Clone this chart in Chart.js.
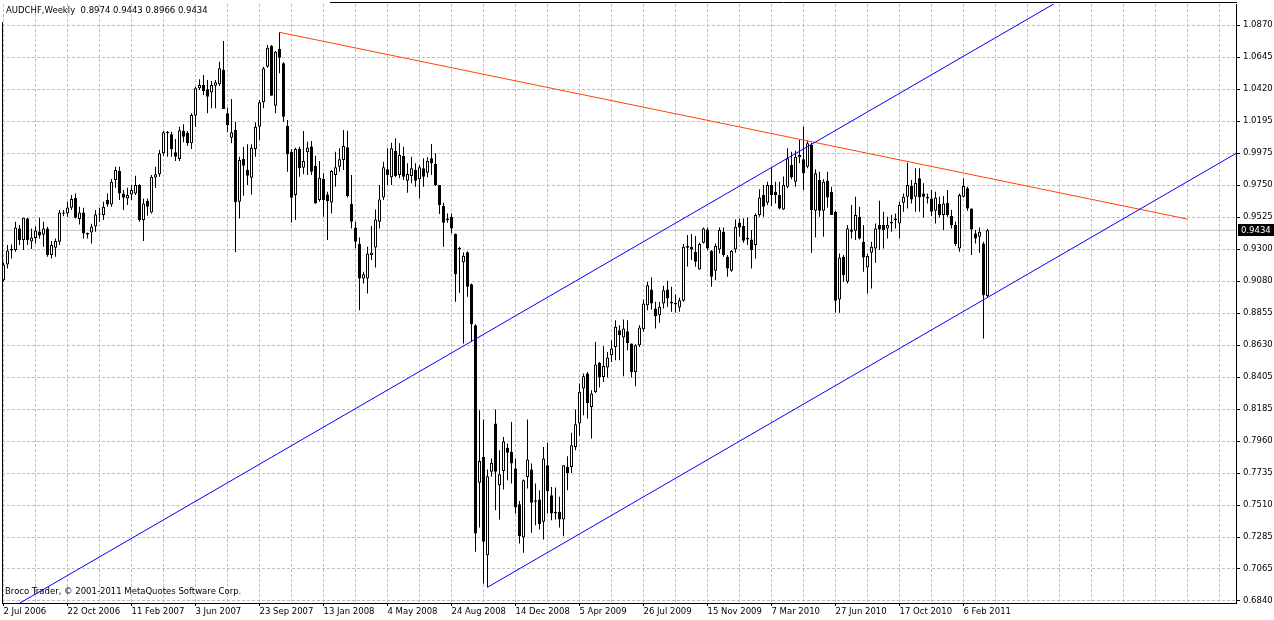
<!DOCTYPE html>
<html>
<head>
<meta charset="utf-8">
<script src="https://cdn.jsdelivr.net/npm/chart.js@4.4.0/dist/chart.umd.min.js"></script>
<style>
html,body{margin:0;padding:0;background:#ffffff;overflow:hidden}
#wrap{position:relative;width:1274px;height:620px}
</style>
</head>
<body>
<div id="wrap"><canvas id="c" width="1274" height="620"></canvas></div>
<script>
// ---------- chart text ----------
const symbol = "AUDCHF";
const timeframe = "Weekly";
const copyrightText = "Broco Trader, \u00A9 2001-2011 MetaQuotes Software Corp.";

// ---------- x axis: weekly bars, one label every 16 weeks from 2 Jul 2006 ----------
const dateLabels = ["2 Jul 2006","22 Oct 2006","11 Feb 2007","3 Jun 2007","23 Sep 2007","13 Jan 2008",
  "4 May 2008","24 Aug 2008","14 Dec 2008","5 Apr 2009","26 Jul 2009","15 Nov 2009","7 Mar 2010",
  "27 Jun 2010","17 Oct 2010","6 Feb 2011"];
const labelEvery = 16;
const gridEvery = 8;

// ---------- y axis tick labels (bottom to top) ----------
const yTickLabels = ["0.6840","0.7065","0.7285","0.7510","0.7735","0.7960","0.8185","0.8405","0.8630",
  "0.8855","0.9080","0.9300","0.9525","0.9750","0.9975","1.0195","1.0420","1.0645","1.0870"];

// ---------- weekly OHLC ----------
const opens = [
0.9085,0.9195,0.9293,0.9295,0.9447,0.9365,0.9517,0.9355,0.9379,0.9425,
0.9402,0.9447,0.9260,0.9312,0.9354,0.9559,0.9552,0.9592,0.9659,0.9512,
0.9559,0.9414,0.9419,0.9460,0.9545,0.9540,0.9645,0.9615,0.9785,0.9848,
0.9692,0.9657,0.9685,0.9692,0.9751,0.9505,0.9638,0.9559,0.9803,0.9825,
0.9972,1.0124,1.0105,0.9979,0.9932,1.0128,1.0116,1.0042,1.0235,1.0427,
1.0450,1.0420,1.0397,1.0445,1.0455,1.0555,1.0252,1.0081,1.0135,0.9633,
0.9932,0.9855,0.9802,1.0002,1.0158,1.0329,1.0578,1.0725,1.0305,1.0702,
1.0602,1.0165,0.9983,0.9680,1.0002,0.9872,0.9979,1.0020,0.9883,0.9645,
0.9792,0.9685,0.9629,0.9820,0.9878,0.9925,1.0014,0.9617,0.9454,0.9337,
0.9097,0.9097,0.9260,0.9314,0.9494,0.9664,0.9860,0.9804,0.9990,0.9820,
0.9953,0.9780,0.9813,0.9855,0.9790,0.9867,0.9836,0.9937,0.9897,0.9750,
0.9603,0.9517,0.9528,0.9407,0.9309,0.9210,0.9280,0.9057,0.8770,0.7667,
0.7848,0.7160,0.7744,0.8082,0.7650,0.7750,0.7912,0.7883,0.7767,0.7517,
0.7284,0.7708,0.7760,0.7545,0.7550,0.7394,0.7790,0.7580,0.7464,0.7464,
0.7410,0.7778,0.7778,0.7918,0.8082,0.8327,0.8432,0.8198,0.8303,0.8507,
0.8408,0.8474,0.8560,0.8618,0.8735,0.8684,0.8728,0.8642,0.8443,0.8630,
0.8742,0.8910,0.9020,0.8887,0.8840,0.8922,0.9020,0.8934,0.8927,0.8894,
0.8940,0.9323,0.9318,0.9281,0.9160,0.9346,0.9440,0.9288,0.9150,0.9300,
0.9423,0.9248,0.9150,0.9300,0.9486,0.9463,0.9381,0.9370,0.9330,0.9540,
0.9680,0.9626,0.9750,0.9703,0.9680,0.9580,0.9738,0.9890,0.9773,0.9944,
0.9930,0.9878,1.0030,0.9570,0.9785,0.9570,0.9780,0.9703,0.9563,0.8950,
0.9248,0.9073,0.9440,0.9430,0.9528,0.9354,0.9174,0.9276,0.9307,0.9470,
0.9470,0.9447,0.9482,0.9517,0.9482,0.9626,0.9668,0.9743,0.9668,0.9797,
0.9692,0.9657,0.9657,0.9570,0.9617,0.9540,0.9626,0.9533,0.9470,0.9307,
0.9668,0.9727,0.9587,0.9412,0.9389,0.9342,0.8974];
const highs = [
0.9209,0.9330,0.9335,0.9493,0.9470,0.9522,0.9522,0.9447,0.9460,0.9521,
0.9493,0.9458,0.9358,0.9377,0.9575,0.9575,0.9633,0.9680,0.9692,0.9598,
0.9592,0.9419,0.9479,0.9575,0.9592,0.9633,0.9692,0.9792,0.9878,0.9878,
0.9715,0.9732,0.9750,0.9815,0.9755,0.9657,0.9657,0.9820,0.9878,0.9995,
1.0128,1.0128,1.0123,1.0072,1.0158,1.0175,1.0128,1.0252,1.0438,1.0490,
1.0520,1.0485,1.0478,1.0485,1.0613,1.0758,1.0291,1.0352,1.0193,0.9948,
1.0018,1.0035,1.0035,1.0189,1.0345,1.0578,1.0730,1.0730,1.0688,1.0819,
1.0609,1.0205,1.0002,1.0011,1.0018,1.0128,1.0053,1.0058,0.9955,0.9918,
0.9832,0.9703,0.9855,0.9983,1.0007,1.0135,1.0130,0.9820,0.9493,0.9384,
0.9143,0.9318,0.9463,0.9580,0.9750,0.9913,1.0007,1.0046,1.0077,1.0042,
1.0018,0.9902,0.9948,0.9902,0.9890,0.9937,0.9944,1.0037,0.9972,0.9750,
0.9626,0.9552,0.9552,0.9412,0.9318,0.9280,0.9287,0.9062,0.8777,0.8175,
0.8110,0.7760,0.7837,0.8180,0.7895,0.7988,0.7942,0.8093,0.7837,0.7540,
0.7690,0.8110,0.7802,0.7662,0.7615,0.7918,0.7947,0.7638,0.7634,0.7569,
0.7790,0.7853,0.8017,0.8180,0.8362,0.8432,0.8443,0.8315,0.8653,0.8513,
0.8623,0.8583,0.8665,0.8805,0.8770,0.8810,0.8805,0.8642,0.8637,0.8770,
0.8950,0.9073,0.9104,0.8933,0.8933,0.9045,0.9080,0.9038,0.8987,0.8962,
0.9337,0.9400,0.9407,0.9393,0.9346,0.9454,0.9454,0.9295,0.9342,0.9454,
0.9454,0.9260,0.9295,0.9510,0.9517,0.9517,0.9524,0.9435,0.9552,0.9720,
0.9750,0.9773,0.9867,0.9773,0.9773,0.9810,1.0007,0.9983,0.9990,1.0065,
1.0158,1.0060,1.0046,0.9860,0.9843,0.9790,0.9843,0.9738,0.9570,0.9272,
0.9260,0.9470,0.9610,0.9668,0.9598,0.9470,0.9272,0.9353,0.9482,0.9640,
0.9563,0.9528,0.9540,0.9552,0.9633,0.9692,0.9906,0.9785,0.9867,0.9867,
0.9762,0.9692,0.9715,0.9703,0.9668,0.9673,0.9715,0.9575,0.9493,0.9692,
0.9797,0.9738,0.9587,0.9435,0.9454,0.9354,0.9443];
const lows = [
0.9073,0.9167,0.9237,0.9283,0.9330,0.9295,0.9330,0.9302,0.9342,0.9377,
0.9319,0.9249,0.9237,0.9249,0.9330,0.9533,0.9528,0.9575,0.9517,0.9475,
0.9377,0.9377,0.9342,0.9423,0.9493,0.9505,0.9598,0.9598,0.9732,0.9645,
0.9575,0.9610,0.9645,0.9680,0.9493,0.9358,0.9535,0.9552,0.9732,0.9808,
0.9955,0.9948,0.9948,0.9918,0.9918,1.0049,1.0025,1.0002,1.0158,1.0415,
1.0380,1.0252,1.0287,1.0287,1.0443,1.0282,1.0119,1.0042,0.9280,0.9517,
0.9675,0.9750,0.9685,0.9948,1.0065,1.0287,1.0571,1.0375,1.0252,1.0532,
1.0193,0.9844,0.9489,0.9505,0.9808,0.9825,0.9820,0.9820,0.9622,0.9633,
0.9528,0.9365,0.9552,0.9738,0.9843,0.9855,0.9664,0.9447,0.9307,0.8875,
0.9062,0.8992,0.9225,0.9174,0.9447,0.9645,0.9750,0.9750,0.9804,0.9797,
0.9785,0.9696,0.9762,0.9738,0.9657,0.9738,0.9804,0.9820,0.9743,0.9547,
0.9318,0.9486,0.9412,0.8933,0.8997,0.8642,0.8968,0.8653,0.7184,0.7354,
0.6962,0.6936,0.7709,0.7475,0.7410,0.7620,0.7685,0.7662,0.7452,0.7242,
0.7177,0.7627,0.7317,0.7370,0.7340,0.7270,0.7452,0.7405,0.7410,0.7354,
0.7293,0.7615,0.7736,0.7895,0.7998,0.8140,0.8117,0.7977,0.8296,0.8334,
0.8373,0.8404,0.8513,0.8525,0.8525,0.8413,0.8595,0.8404,0.8343,0.8618,
0.8723,0.8875,0.8880,0.8747,0.8786,0.8887,0.8898,0.8863,0.8856,0.8864,
0.8933,0.9180,0.9225,0.9178,0.9160,0.9342,0.9295,0.9038,0.9085,0.9272,
0.9248,0.9108,0.9143,0.9276,0.9388,0.9346,0.9330,0.9167,0.9237,0.9528,
0.9528,0.9610,0.9603,0.9622,0.9580,0.9575,0.9727,0.9790,0.9738,0.9902,
0.9715,0.9867,0.9276,0.9384,0.9528,0.9388,0.9594,0.9540,0.8856,0.8856,
0.9073,0.9062,0.9377,0.9365,0.9370,0.9143,0.8992,0.9027,0.9206,0.9295,
0.9307,0.9377,0.9423,0.9447,0.9377,0.9563,0.9587,0.9622,0.9563,0.9563,
0.9524,0.9622,0.9533,0.9482,0.9524,0.9435,0.9528,0.9447,0.9323,0.9283,
0.9664,0.9570,0.9260,0.9342,0.9276,0.8677,0.8966];
const closes = [
0.9195,0.9293,0.9302,0.9454,0.9365,0.9521,0.9365,0.9384,0.9432,0.9397,
0.9447,0.9260,0.9330,0.9358,0.9559,0.9550,0.9594,0.9652,0.9521,0.9559,
0.9412,0.9405,0.9460,0.9545,0.9552,0.9598,0.9615,0.9773,0.9855,0.9692,
0.9662,0.9681,0.9716,0.9751,0.9505,0.9622,0.9598,0.9808,0.9825,0.9972,
1.0119,1.0112,1.0000,0.9948,1.0133,1.0088,1.0042,1.0240,1.0427,1.0450,
1.0408,1.0368,1.0450,1.0469,1.0567,1.0282,1.0170,1.0119,0.9630,0.9925,
0.9886,0.9816,1.0011,1.0158,1.0329,1.0567,1.0711,1.0375,1.0683,1.0641,
1.0228,0.9965,0.9662,1.0002,0.9867,0.9918,1.0011,0.9844,0.9622,0.9801,
0.9645,0.9638,0.9848,0.9874,0.9930,1.0023,0.9673,0.9493,0.9354,0.9097,
0.9127,0.9272,0.9279,0.9510,0.9650,0.9874,0.9820,1.0007,0.9813,0.9960,
0.9808,0.9827,0.9867,0.9780,0.9874,0.9808,0.9920,0.9902,0.9750,0.9610,
0.9486,0.9505,0.9447,0.9127,0.9300,0.9256,0.9039,0.8777,0.7312,0.7820,
0.7254,0.7713,0.7807,0.7744,0.7727,0.7958,0.7877,0.7802,0.7494,0.7293,
0.7685,0.7830,0.7527,0.7534,0.7377,0.7837,0.7610,0.7452,0.7452,0.7410,
0.7790,0.7736,0.7930,0.8077,0.8304,0.8413,0.8226,0.8292,0.8495,0.8404,
0.8485,0.8544,0.8607,0.8758,0.8700,0.8747,0.8646,0.8443,0.8630,0.8754,
0.8922,0.9050,0.8922,0.8833,0.8898,0.9015,0.8957,0.8922,0.8915,0.8945,
0.9318,0.9312,0.9300,0.9213,0.9337,0.9447,0.9307,0.9108,0.9323,0.9435,
0.9260,0.9167,0.9288,0.9458,0.9454,0.9360,0.9370,0.9295,0.9540,0.9664,
0.9598,0.9750,0.9680,0.9680,0.9587,0.9750,0.9937,0.9804,0.9948,0.9960,
0.9832,1.0042,0.9575,0.9832,0.9570,0.9773,0.9664,0.9540,0.8940,0.9244,
0.9120,0.9447,0.9423,0.9540,0.9377,0.9244,0.9253,0.9318,0.9447,0.9440,
0.9435,0.9470,0.9493,0.9505,0.9610,0.9668,0.9750,0.9650,0.9766,0.9664,
0.9668,0.9668,0.9563,0.9664,0.9540,0.9622,0.9540,0.9470,0.9337,0.9680,
0.9743,0.9587,0.9440,0.9377,0.9423,0.8980,0.9434];

// ---------- trend lines (bar index, price) ----------
const upperChannelX = [-5, 270];
const upperChannelY = [0.6678, 1.1138];
const lowerChannelX = [121, 320];
const lowerChannelY = [0.6936, 1.0164];
const resistanceX = [69, 296];
const resistanceY = [1.0819, 0.9512];

// ---------- build ----------
const FONT = "'DejaVu Sans', 'Noto Sans', sans-serif";
const FS = 8.5;
Chart.defaults.font.family = FONT;
Chart.defaults.font.size = FS;
Chart.defaults.color = '#000000';

const n = opens.length;
const lastI = n - 1;
const lastClose = closes[lastI];
const idx = opens.map((_, i) => i);
const bodyData = idx.map(i => ({x: i, y: [opens[i], closes[i]]}));
const wickData = idx.map(i => ({x: i, y: [lows[i], highs[i]]}));
const bodyFill = idx.map(i => closes[i] >= opens[i] ? '#ffffff' : '#000000');
const pts = (xs, ys) => xs.map((x, i) => ({x: x, y: ys[i]}));

const X_MIN = -0.375, X_MAX = 308.125;
const Y_MIN = 0.6826, Y_MAX = 1.1017;
const yLo = parseFloat(yTickLabels[0]);
const yHi = parseFloat(yTickLabels[yTickLabels.length - 1]);
const yStep = (yHi - yLo) / (yTickLabels.length - 1);

const isLabeled = v => v % labelEvery === 0 && v / labelEvery < dateLabels.length;

const overlay = {
  id: 'mt4overlay',
  afterDraw(chart) {
    const {ctx, chartArea, scales} = chart;
    ctx.save();
    ctx.font = FS + 'px ' + FONT;
    ctx.textAlign = 'left';
    ctx.textBaseline = 'middle';
    ctx.fillStyle = '#000000';
    const ohlc = [opens[lastI], highs[lastI], lows[lastI], closes[lastI]].map(v => v.toFixed(4)).join(' ');
    ctx.fillText(symbol + ',' + timeframe + '  ' + ohlc, 6, 11);
    ctx.fillText(copyrightText, 5, 592);
    ctx.strokeStyle = '#000000';
    ctx.lineWidth = 1;
    ctx.beginPath();
    ctx.moveTo(chartArea.left + 0.5, 22);
    ctx.lineTo(chartArea.left + 0.5, chartArea.bottom);
    ctx.stroke();
    ctx.beginPath();
    ctx.moveTo(330, 2.5);
    ctx.lineTo(chartArea.right + 1, 2.5);
    ctx.stroke();
    const py = Math.round(scales.y.getPixelForValue(lastClose));
    ctx.fillStyle = '#000000';
    ctx.fillRect(chartArea.right + 2, py - 6, 36, 12);
    ctx.fillStyle = '#ffffff';
    ctx.fillText(lastClose.toFixed(4), chartArea.right + 5, py + 0.5);
    ctx.restore();
  }
};

new Chart(document.getElementById('c'), {
  type: 'bar',
  data: {
    datasets: [
      { type: 'line', label: 'upper channel', data: pts(upperChannelX, upperChannelY),
        borderColor: '#0000ff', borderWidth: 1, pointRadius: 0, tension: 0, clip: 0, order: 0 },
      { type: 'line', label: 'lower channel', data: pts(lowerChannelX, lowerChannelY),
        borderColor: '#0000ff', borderWidth: 1, pointRadius: 0, tension: 0, clip: 0, order: 0 },
      { type: 'line', label: 'resistance', data: pts(resistanceX, resistanceY),
        borderColor: '#ff4500', borderWidth: 1, pointRadius: 0, tension: 0, clip: 0, order: 0 },
      { type: 'bar', label: 'body', data: bodyData, backgroundColor: bodyFill, borderColor: '#000000',
        borderWidth: 1, borderSkipped: false, inflateAmount: 0, grouped: false,
        barPercentage: 1, categoryPercentage: 1, maxBarThickness: 3, order: 1 },
      { type: 'bar', label: 'wick', data: wickData, backgroundColor: '#000000', borderWidth: 0,
        borderSkipped: false, inflateAmount: 0, grouped: false,
        barPercentage: 1, categoryPercentage: 1, maxBarThickness: 1, order: 2 },
      { type: 'line', label: 'bid', data: pts([X_MIN - 1, X_MAX + 1], [lastClose, lastClose]),
        borderColor: '#c0c0c0', borderWidth: 1, pointRadius: 0, tension: 0, clip: 0, order: 3 }
    ]
  },
  options: {
    responsive: false,
    maintainAspectRatio: false,
    devicePixelRatio: 1,
    animation: false,
    events: [],
    layout: { padding: { left: 2, top: 4, right: 0, bottom: 0 } },
    plugins: { legend: { display: false }, tooltip: { enabled: false }, title: { display: false } },
    scales: {
      x: {
        type: 'linear', position: 'bottom', min: X_MIN, max: X_MAX, offset: false,
        grid: { offset: false, color: '#c0c0c0', lineWidth: 1, drawTicks: true, tickLength: 3,
          tickColor: c => (c.tick && isLabeled(c.tick.value)) ? '#000000' : 'rgba(0,0,0,0)' },
        border: { display: true, color: '#000000', width: 1, dash: [3, 2] },
        ticks: { autoSkip: false, maxRotation: 0, minRotation: 0, align: 'start', padding: 1,
          color: '#000000', font: { family: FONT, size: FS },
          callback: v => isLabeled(v) ? dateLabels[v / labelEvery] : '' },
        afterBuildTicks: s => {
          const t = [];
          for (let v = 0; v <= X_MAX; v += gridEvery) t.push({ value: v });
          s.ticks = t;
        },
        afterFit: s => { s.height = 17; s.paddingLeft = 0; s.paddingRight = 0; }
      },
      y: {
        type: 'linear', position: 'right', min: Y_MIN, max: Y_MAX,
        grid: { color: '#c0c0c0', lineWidth: 1, drawTicks: true, tickLength: 4, tickColor: '#000000' },
        border: { display: true, color: '#000000', width: 1, dash: [3, 2] },
        ticks: { padding: 3, color: '#000000', font: { family: FONT, size: FS },
          callback: (v, i) => yTickLabels[i] },
        afterBuildTicks: s => { s.ticks = yTickLabels.map((_, k) => ({ value: yLo + k * yStep })); },
        afterFit: s => { s.width = 38; s.paddingTop = 0; s.paddingBottom = 0; }
      }
    }
  },
  plugins: [overlay]
});
</script>
</body>
</html>
